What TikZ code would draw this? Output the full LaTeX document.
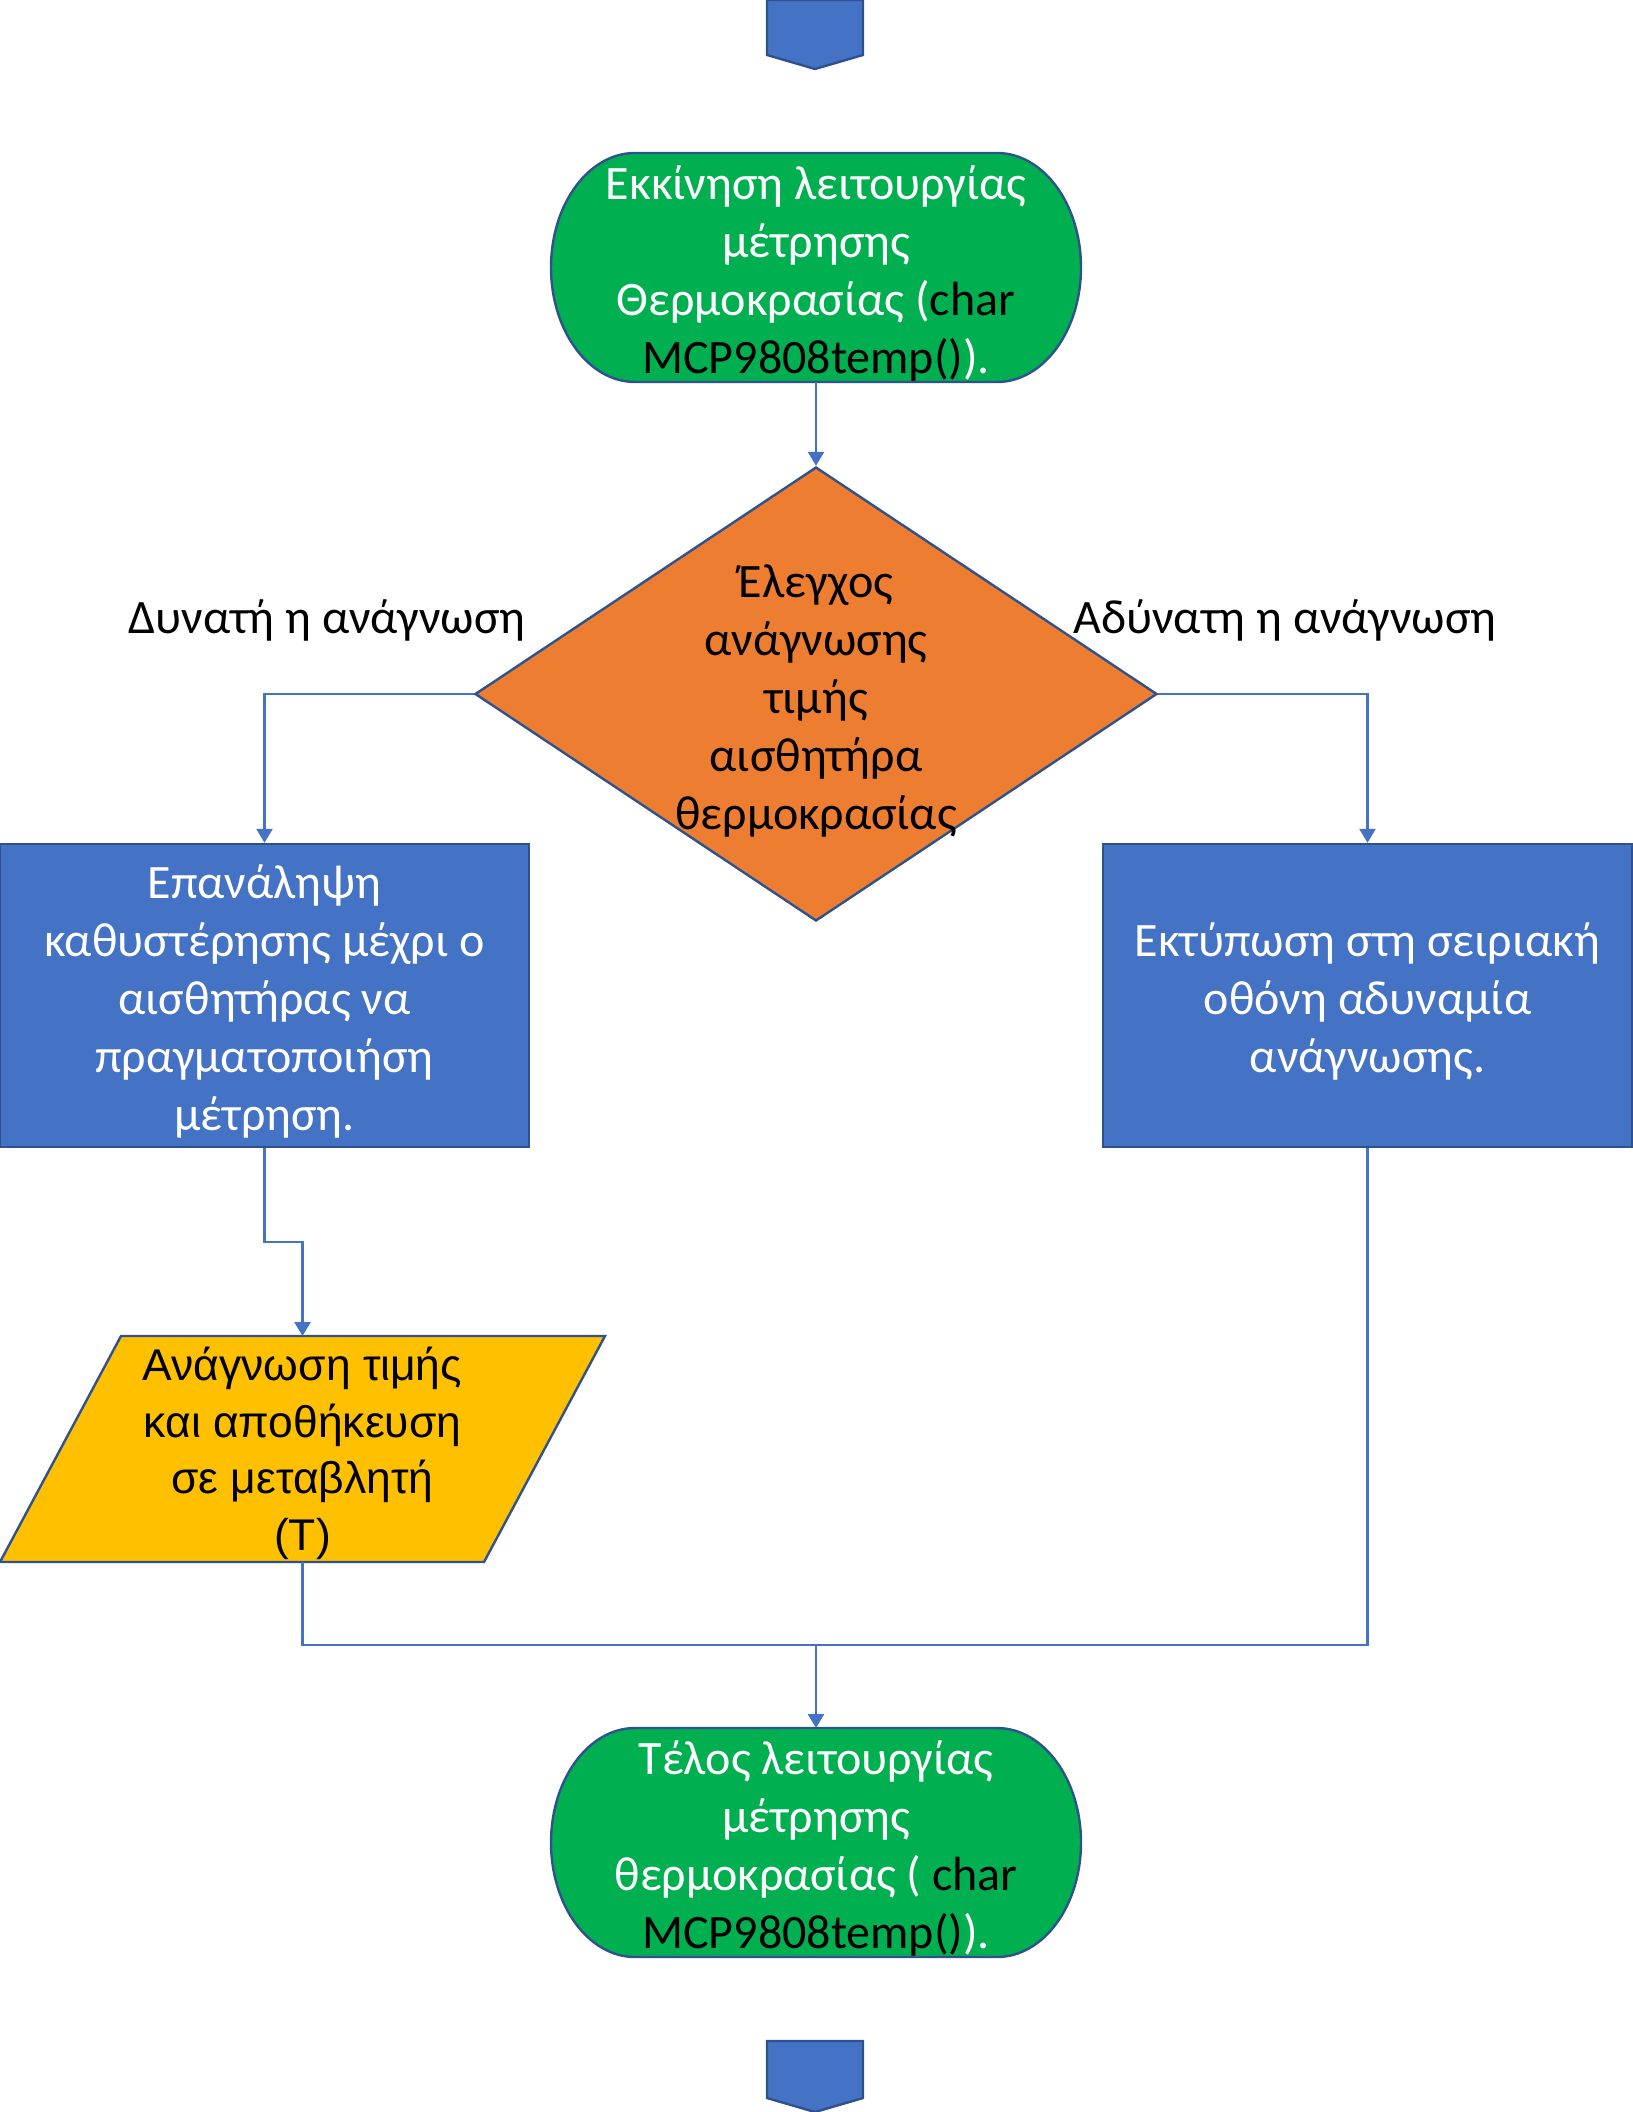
\documentclass[tikz,border=0pt]{standalone}
\usepackage{fontspec}
\setmainfont{Carlito}
\newfontfamily\arialfont{Liberation Sans}
\usetikzlibrary{arrows.meta,calc,shapes.geometric,backgrounds}
\definecolor{flowgreen}{HTML}{00B050}
\definecolor{flowblue}{HTML}{4472C4}
\definecolor{flowedge}{HTML}{2F528F}
\definecolor{floworange}{HTML}{ED7D31}
\definecolor{flowgold}{HTML}{FFC000}
% a tall invisible strut for the first line of the centred texts
\newcommand\firstline{\rule{0pt}{23pt}}

\begin{document}
\begin{tikzpicture}[x=0.5pt,y=0.5pt,
  font=\fontsize{24}{29}\selectfont,
  outline/.style={draw=flowedge,line width=1.2pt},
  termtext/.style={align=center,text=white,inner sep=0pt,outer sep=0pt,
    minimum width=265pt,minimum height=114.5pt},
  proc/.style={rectangle,outline,fill=flowblue,text=white,align=center,
    minimum width=264.5pt,minimum height=151.5pt,inner sep=0pt},
  flow/.style={draw=flowblue,line width=1.3pt},
  arrow/.style={flow,-{Triangle[length=7pt,width=8pt]}},
]
\useasboundingbox (0,0) rectangle (1632,-2112);

% off-page connectors
\draw[outline,fill=flowblue] (767,0) -- (863,0) -- (863,-55) -- (815,-69) -- (767,-55) -- cycle;
\draw[outline,fill=flowblue] (767,-2041) -- (863,-2041) -- (863,-2098) -- (815,-2112) -- (767,-2098) -- cycle;

% start terminal
\node[termtext] (start) at (816,-267.5)
  {\firstline Εκκίνηση λειτουργίας\\μέτρησης\\Θερμοκρασίας (\textcolor{black}{char}\\\textcolor{black}{MCP9808temp()}).};

% decision
\node[diamond,outline,fill=floworange,minimum width=341pt,minimum height=227pt,inner sep=0pt] (dec) at (816,-694) {};
\node[align=center,inner sep=0pt] (dectext) at (dec.center)
  {\firstline Έλεγχος\\ανάγνωσης\\τιμής\\αισθητήρα\\θερμοκρασίας};

% branch labels
\node (lblyes) at (327,-620) {Δυνατή η ανάγνωση};
\node (lblno) at (1285,-620) {Αδύνατη η ανάγνωση};

% process boxes
\node[proc] (lbox) at (264.5,-995.5)
  {\firstline Επανάληψη\\καθυστέρησης μέχρι ο\\αισθητήρας να\\πραγματοποιήση\\μέτρηση.};
\node[proc] (rbox) at (1367.5,-995.5)
  {\firstline Εκτύπωση στη σειριακή\\οθόνη αδυναμία\\ανάγνωσης.};

% input/output
\node[align=center,inner sep=0pt,outer sep=0pt,minimum width=302.5pt,minimum height=113pt,
  font=\arialfont\fontsize{22.2}{28.2}\selectfont] (io) at (302.5,-1449)
  {\rule{0pt}{21pt}Ανάγνωση τιμής\\και αποθήκευση\\σε μεταβλητή\\(T)};

% end terminal
\node[termtext] (stop) at (816,-1842.5)
  {\firstline Τέλος λειτουργίας\\μέτρησης\\θερμοκρασίας ( \textcolor{black}{char}\\\textcolor{black}{MCP9808temp()}).};

% shape outlines behind the texts
\begin{scope}[on background layer]
  \foreach \t in {start,stop}{
    \draw[outline,fill=flowgreen]
      ($(\t.north west)+(84,0)$) -- ($(\t.north east)+(-84,0)$)
      arc[start angle=90,end angle=-90,x radius=42pt,y radius=57.25pt]
      -- ($(\t.south west)+(84,0)$)
      arc[start angle=270,end angle=90,x radius=42pt,y radius=57.25pt] -- cycle;
  }
  \draw[outline,fill=flowgold]
    ($(io.north west)+(121,0)$) -- (io.north east)
    -- ($(io.south east)+(-121,0)$) -- (io.south west) -- cycle;
\end{scope}

% connectors
\coordinate (lbend) at ($(lbox.south)!0.5!(io.north)$);
\coordinate (join) at (816,-1645);
\draw[arrow] (start.south) -- (dec.north);
\draw[arrow] (dec.west) -| (lbox.north);
\draw[arrow] (dec.east) -| (rbox.north);
\draw[arrow] (lbox.south) -- (lbox.south |- lbend) -- (io.north |- lbend) -- (io.north);
\draw[flow] (io.south) |- (join) -| (rbox.south);
\draw[arrow] (join) -- (stop.north);
\end{tikzpicture}
\end{document}
